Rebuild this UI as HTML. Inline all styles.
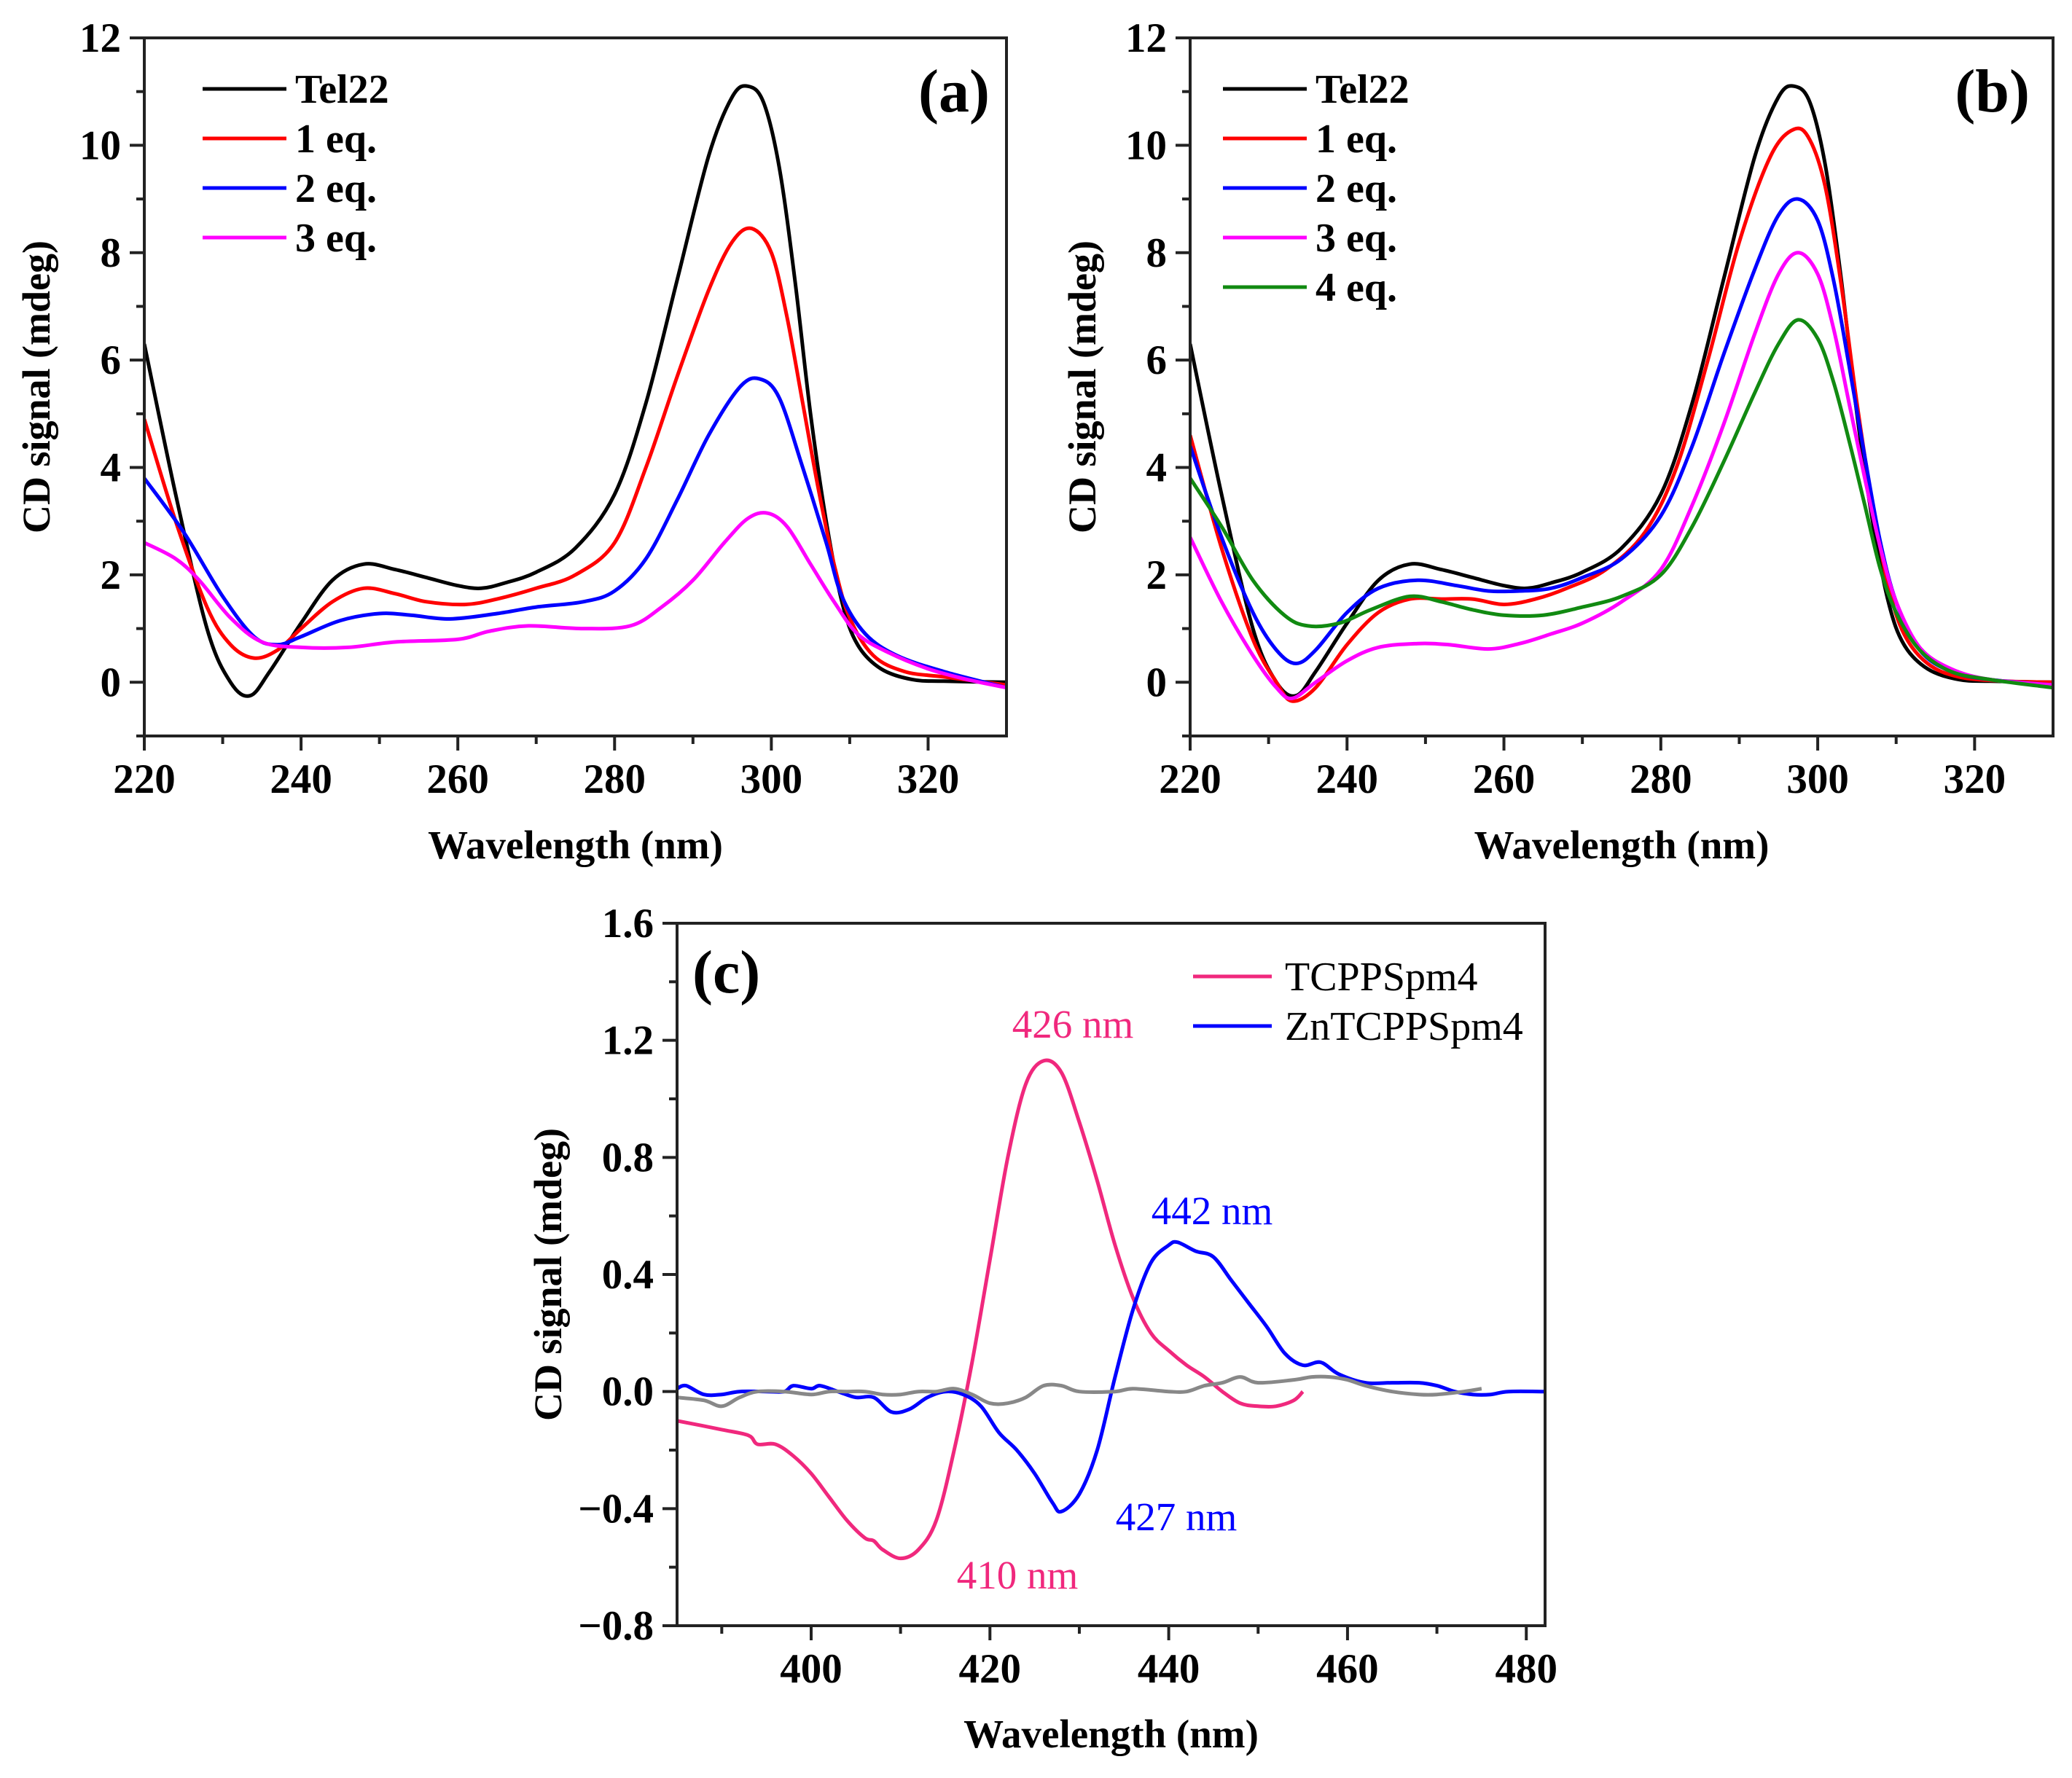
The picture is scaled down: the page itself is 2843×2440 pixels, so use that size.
<!DOCTYPE html>
<html><head><meta charset="utf-8"><style>
html,body{margin:0;padding:0;background:#fff;}
svg{display:block;font-family:"Liberation Serif","DejaVu Serif",serif;}
</style></head><body>
<svg id="fig" width="2843" height="2440" viewBox="0 0 2843 2440" xmlns="http://www.w3.org/2000/svg"></svg>
<script>
// ---------- Panel (a)/(b) data ----------
const tel22X = [220,224,228,231,233.5,236,240,244,248,252,256,260,263,266,270,275,280,284,288,292,295,297,299,301,303,305,307,309,311,314,318,322,330];
const tel22Y = [6.3,3.5,1.0,0,-0.25,0.2,1.1,1.9,2.2,2.1,1.95,1.8,1.75,1.85,2.05,2.5,3.5,5.2,7.5,9.8,10.9,11.1,10.8,9.6,7.5,5.0,3.0,1.5,0.7,0.25,0.05,0.02,0.0];
const a1X = [220,224,228,231,234,237,240,244,248,252,256,261,265,270,275,280,284,288,292,295,297.5,300,302,304,306,308,310,313,317,322,330];
const a1Y = [4.9,3.0,1.4,0.7,0.45,0.6,1.0,1.5,1.75,1.65,1.5,1.45,1.55,1.75,2.0,2.6,4.0,5.7,7.3,8.2,8.45,8.0,6.8,5.2,3.6,2.2,1.2,0.5,0.2,0.1,-0.05];
const a2X = [220,225,230,234,237,240,245,250,254,259,265,270,276,280,284,288,292,296,298.5,301,304,307,309,312,316,322,330];
const a2Y = [3.8,2.8,1.6,0.85,0.7,0.85,1.15,1.28,1.25,1.18,1.28,1.4,1.5,1.7,2.3,3.4,4.6,5.5,5.65,5.3,4.0,2.6,1.6,0.9,0.5,0.2,-0.1];
const a3X = [220,224,227,231,235,240,246,252,260,264,269,276,282,286,290,294,297,299.5,302,305,308,311,315,320,325,330];
const a3Y = [2.6,2.3,1.9,1.2,0.75,0.65,0.65,0.75,0.8,0.95,1.05,1.0,1.05,1.4,1.9,2.6,3.05,3.15,2.9,2.2,1.5,0.9,0.55,0.25,0.05,-0.1];
const b1X = [220,224,228,231,233,236,240,244,248,252,256,260,264,268,273,278,282,286,290,294,297,299,301,303,305,307,309,311,314,318,324,330];
const b1Y = [4.6,2.5,0.8,0,-0.35,-0.1,0.7,1.3,1.55,1.55,1.55,1.45,1.55,1.75,2.1,2.8,4.0,6.0,8.2,9.8,10.3,10.1,9.2,7.4,5.2,3.3,1.8,0.9,0.35,0.1,0.02,0];
const b2X = [220,224,228,231,233.5,236,240,244,249,254,258,262,266,270,275,280,284,288,292,295,297.5,300,302,304,306,308,310,313,317,322,330];
const b2Y = [4.4,2.7,1.3,0.6,0.35,0.6,1.3,1.75,1.9,1.8,1.7,1.7,1.75,1.95,2.3,3.1,4.4,6.1,7.7,8.7,9.0,8.6,7.5,5.9,4.2,2.6,1.5,0.6,0.2,0.05,-0.05];
const b3X = [220,224,228,231,233,236,240,244,249,253,258,262,266,270,275,280,284,288,292,295,297.5,300,302,304,306,308,310,313,317,322,330];
const b3Y = [2.7,1.5,0.5,-0.1,-0.3,0,0.4,0.65,0.72,0.7,0.62,0.72,0.9,1.1,1.5,2.1,3.3,4.8,6.5,7.6,8.0,7.6,6.6,5.2,3.8,2.5,1.5,0.65,0.25,0.05,-0.05];
const b4X = [220,224,228,232,235,239,243,248,252,256,260,265,270,275,280,284,288,292,295,297.5,300,302,304,306,308,310,313,317,322,330];
const b4Y = [3.8,2.9,1.9,1.25,1.05,1.1,1.35,1.6,1.5,1.35,1.25,1.25,1.4,1.6,2.0,2.9,4.1,5.4,6.3,6.75,6.4,5.6,4.5,3.3,2.1,1.3,0.6,0.2,0.05,-0.1];
const abXTicks = [220,240,260,280,300,320];
const abYTicks = [0,2,4,6,8,10,12];
// ---------- Panel (c) data ----------
const tcX = [385,390,393,394,396,398,400,402,404,406,407,408,410,412,414,416,418,420,422,424,426,428,430,432,434,436,438,440,442,444,446,448,450,452,454,455];
const tcY = [-0.1,-0.13,-0.15,-0.18,-0.18,-0.22,-0.28,-0.36,-0.44,-0.5,-0.51,-0.54,-0.57,-0.54,-0.44,-0.2,0.1,0.45,0.8,1.05,1.13,1.09,0.92,0.72,0.5,0.32,0.2,0.14,0.09,0.05,0.0,-0.04,-0.05,-0.05,-0.03,0.0];
const znX = [385,386,388,390,392,395,397,398,400,401,403,405,407,409,411,413,415,417,419,421,423,425,427,428,430,432,434,436,438,440,441,443,445,447,449,451,453,455,457,459,462,465,468,470,472,474,476,478,482];
const znY = [0.01,0.02,-0.01,-0.01,0.0,0.0,0.0,0.02,0.01,0.02,0.0,-0.02,-0.02,-0.07,-0.06,-0.02,0.0,-0.01,-0.05,-0.14,-0.2,-0.28,-0.38,-0.41,-0.35,-0.2,0.05,0.28,0.44,0.5,0.51,0.48,0.46,0.38,0.3,0.22,0.13,0.09,0.1,0.06,0.03,0.03,0.03,0.02,0.0,-0.01,-0.01,0.0,0.0];
const grX = [385,388,390,392,394,397,400,402,404,406,408,410,412,414,416,418,420,422,424,426,428,430,434,436,440,442,444,446,448,450,454,456,458,460,462,465,468,470,473,475];
const grY = [-0.02,-0.03,-0.05,-0.02,0.0,0.0,-0.01,0.0,0.0,0.0,-0.01,-0.01,0.0,0.0,0.01,-0.01,-0.04,-0.04,-0.02,0.02,0.02,0.0,0.0,0.01,0.0,0.0,0.02,0.03,0.05,0.03,0.04,0.05,0.05,0.04,0.02,0.0,-0.01,-0.01,0.0,0.01];
const cXTicks = [400,420,440,460,480];
const cYTicks = [-0.8,-0.4,0.0,0.4,0.8,1.2,1.6];
const cYLabels = ["\u22120.8","\u22120.4","0.0","0.4","0.8","1.2","1.6"];

const NS = "http://www.w3.org/2000/svg";
const svg = document.getElementById('fig');
function mk(tag, attrs, parent){ const e=document.createElementNS(NS,tag); for(const k in attrs) e.setAttribute(k,attrs[k]); (parent||svg).appendChild(e); return e; }
function smoothPath(pts){
  let d = `M${pts[0][0].toFixed(1)},${pts[0][1].toFixed(1)}`;
  for(let i=0;i<pts.length-1;i++){
    const p0=pts[i-1]||pts[i], p1=pts[i], p2=pts[i+1], p3=pts[i+2]||p2;
    const c1=[p1[0]+(p2[0]-p0[0])/6, p1[1]+(p2[1]-p0[1])/6];
    const c2=[p2[0]-(p3[0]-p1[0])/6, p2[1]-(p3[1]-p1[1])/6];
    d+=` C${c1[0].toFixed(1)},${c1[1].toFixed(1)} ${c2[0].toFixed(1)},${c2[1].toFixed(1)} ${p2[0].toFixed(1)},${p2[1].toFixed(1)}`;
  }
  return d;
}
function panel(o){
  const sx = v => o.x0 + (v-o.xmin)/(o.xmax-o.xmin)*(o.x1-o.x0);
  const sy = v => o.y1 - (v-o.ymin)/(o.ymax-o.ymin)*(o.y1-o.y0);
  const g = mk('g',{});
  
  
  const clipId = o.name+'-clip';
  const cp = mk('clipPath',{id:clipId},g); mk('rect',{x:o.x0,y:o.y0,width:o.x1-o.x0,height:o.y1-o.y0},cp);
  const sg = mk('g',{'clip-path':`url(#${clipId})`},g);
  o.series.forEach(s=>{
    const pts = s.x.map((xv,i)=>[sx(xv), sy(s.y[i])]);
    const p = mk('path',{d:smoothPath(pts),fill:'none',stroke:s.color,'stroke-width':5,'stroke-linejoin':'round'},sg);
    
    
  });
  const frame = mk('rect',{x:o.x0,y:o.y0,width:o.x1-o.x0,height:o.y1-o.y0,fill:'none',stroke:'#222','stroke-width':4},g);
  
  
  o.xt.forEach((t,i)=>{
    const x=sx(t);
    mk('line',{x1:x,y1:o.y1,x2:x,y2:o.y1+20,stroke:'#222','stroke-width':4},g);
    const tx = mk('text',{x:x,y:o.y1+78,'text-anchor':'middle','font-size':57,'font-weight':'bold'},g);
    tx.textContent = t;
    
    
    const mid = t + o.xminor;
    if(mid < o.xmax){ const xm=sx(mid); mk('line',{x1:xm,y1:o.y1,x2:xm,y2:o.y1+11,stroke:'#222','stroke-width':4},g); }
    const midL = t - o.xminor;
    if(i===0 && midL > o.xmin){ const xm=sx(midL); mk('line',{x1:xm,y1:o.y1,x2:xm,y2:o.y1+11,stroke:'#222','stroke-width':4},g); }
  });
  o.yt.forEach((t,i)=>{
    const y=sy(t);
    mk('line',{x1:o.x0-20,y1:y,x2:o.x0,y2:y,stroke:'#222','stroke-width':4},g);
    const tx = mk('text',{x:o.x0-32,y:y+19,'text-anchor':'end','font-size':57,'font-weight':'bold'},g);
    tx.textContent = o.ylab ? o.ylab[i] : t;
    
    
    const m = t - o.yminor;
    if(m >= o.ymin-1e-9 && m < t){ const ym=sy(m); mk('line',{x1:o.x0-11,y1:ym,x2:o.x0,y2:ym,stroke:'#222','stroke-width':4},g); }
  });
  const xt = mk('text',{x:(o.x0+o.x1)/2,y:o.xtitleY,'text-anchor':'middle','font-size':55,'font-weight':'bold'},g);
  xt.textContent = 'Wavelength (nm)';
  
  
  const yt = mk('text',{x:0,y:0,'text-anchor':'middle','font-size':54,'font-weight':'bold',transform:`translate(${o.ytitleX},${(o.y0+o.y1)/2}) rotate(-90)`},g);
  yt.textContent = 'CD signal (mdeg)';
  
  
  o.series.forEach((s,i)=>{
    if(!s.label) return;
    const y = o.leg.y + i*o.leg.dy;
    const l = mk('line',{x1:o.leg.x,y1:y,x2:o.leg.x+o.leg.len,y2:y,stroke:s.color,'stroke-width':5},g);
    
    
    const t = mk('text',{x:o.leg.x+o.leg.len+o.leg.gap,y:y+o.leg.off,'font-size':o.leg.fs,'font-weight':o.leg.fw},g);
    t.textContent = s.label;
    
    
  });
  const pl = mk('text',{x:o.plab.x,y:o.plab.y,'text-anchor':o.plab.anchor,'font-size':84,'font-weight':'bold'},g);
  pl.textContent = o.plab.t;
  
  
  return {sx,sy,g};
}
panel({name:'panel-a',x0:198,x1:1381,y0:52,y1:1010,xmin:220,xmax:330,ymin:-1,ymax:12,xt:abXTicks,yt:abYTicks,xminor:10,yminor:1,
  xtitleY:1178,ytitleX:68,
  series:[{id:'tel22-line',x:tel22X,y:tel22Y,color:'#000',label:'Tel22'},{id:'eq1-line',x:a1X,y:a1Y,color:'#ff0000',label:'1 eq.'},{id:'eq2-line',x:a2X,y:a2Y,color:'#0000ff',label:'2 eq.'},{id:'eq3-line',x:a3X,y:a3Y,color:'#ff00ff',label:'3 eq.'}],
  leg:{x:278,y:122,dy:68,len:115,gap:12,off:19,fs:56,fw:'bold'},plab:{x:1358,y:153,anchor:'end',t:'(a)'}});
panel({name:'panel-b',x0:1633,x1:2817,y0:52,y1:1010,xmin:220,xmax:330,ymin:-1,ymax:12,xt:abXTicks,yt:abYTicks,xminor:10,yminor:1,
  xtitleY:1178,ytitleX:1503,
  series:[{id:'tel22-line',x:tel22X,y:tel22Y,color:'#000',label:'Tel22'},{id:'eq1-line',x:b1X,y:b1Y,color:'#ff0000',label:'1 eq.'},{id:'eq2-line',x:b2X,y:b2Y,color:'#0000ff',label:'2 eq.'},{id:'eq3-line',x:b3X,y:b3Y,color:'#ff00ff',label:'3 eq.'},{id:'eq4-line',x:b4X,y:b4Y,color:'#118a11',label:'4 eq.'}],
  leg:{x:1678,y:122,dy:68,len:115,gap:12,off:19,fs:56,fw:'bold'},plab:{x:2785,y:153,anchor:'end',t:'(b)'}});
const pc = panel({name:'panel-c',x0:929,x1:2120,y0:1267,y1:2231,xmin:385,xmax:482.1,ymin:-0.8,ymax:1.6,xt:cXTicks,yt:cYTicks,ylab:cYLabels,xminor:10,yminor:0.2,
  xtitleY:2398,ytitleX:770,
  series:[{id:'tcppspm4-line',x:tcX,y:tcY,color:'#f0287d',label:'TCPPSpm4'},{id:'zntcppspm4-line',x:znX,y:znY,color:'#0000ff',label:'ZnTCPPSpm4'},{id:'baseline-line',x:grX,y:grY,color:'#888888',label:''}],
  leg:{x:1637,y:1340,dy:68,len:108,gap:18,off:19,fs:56,fw:'normal'},plab:{x:950,y:1362,anchor:'start',t:'(c)'}});
[['426 nm',1472,1424,'#f0287d'],['442 nm',1663,1680,'#0000ff'],['427 nm',1614,2100,'#0000ff'],['410 nm',1396,2180,'#f0287d']].forEach(a=>{
  const t = mk('text',{x:a[1],y:a[2],'text-anchor':'middle','font-size':55,fill:a[3]},pc.g);
  t.textContent = a[0];
  
  
});
</script>
</body></html>
